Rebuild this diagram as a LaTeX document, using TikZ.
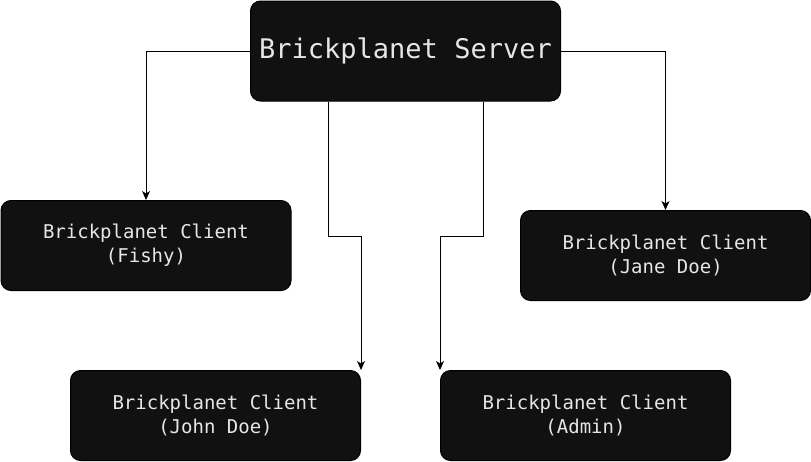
\documentclass[tikz,border=0pt]{standalone}
\usepackage{fontspec}
\newfontfamily\diagmono{DejaVu Sans Mono}
\usetikzlibrary{arrows.meta,calc}
\definecolor{boxfill}{HTML}{111111}
\definecolor{boxtext}{HTML}{E6E6E6}
\tikzset{
  darkbox/.style={draw=black, fill=boxfill, rounded corners=10pt, line width=1pt,
    minimum width=310pt, minimum height=100pt, inner sep=0pt, anchor=north west,
    text=boxtext, align=center, font=\diagmono\fontsize{27}{30}\selectfont},
  clientbox/.style={darkbox, minimum width=290pt, minimum height=90pt,
    font=\diagmono\fontsize{19}{24}\selectfont},
  conn/.style={draw=black, line width=1pt, -{Stealth[length=9pt,width=8pt,inset=2.5pt]}}
}
\begin{document}
\begin{tikzpicture}[x=1pt,y=-1pt]
\useasboundingbox (0,0) rectangle (811,461);
\node[darkbox] (srv) at (250,0.5) {Brickplanet Server};
\node[clientbox] (fishy) at (0.5,200) {Brickplanet Client\\(Fishy)};
\node[clientbox] (jane) at (520,210) {Brickplanet Client\\(Jane Doe)};
\node[clientbox] (john) at (70,370) {Brickplanet Client\\(John Doe)};
\node[clientbox] (admin) at (440,370) {Brickplanet Client\\(Admin)};
\coordinate (s1) at ($(srv.south west)+(78,0)$);
\coordinate (s2) at ($(srv.south west)+(233,0)$);
\draw[conn] (srv.west) -| (fishy.north);
\draw[conn] (srv.east) -| (jane.north);
\draw[conn] (s1) -- ($(s1)+(0,135)$) -| (john.north east);
\draw[conn] (s2) -- ($(s2)+(0,135)$) -| (admin.north west);
\end{tikzpicture}
\end{document}
